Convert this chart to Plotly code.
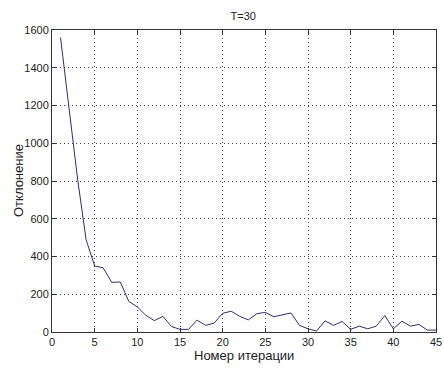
import plotly.graph_objects as go

iterations = list(range(1, 46))
deviation = [1560, 1190, 810, 488, 350, 340, 263, 265, 162, 133, 88, 60, 83, 29, 14,
             14, 63, 35, 47, 99, 110, 83, 64, 97, 104, 81, 92, 101, 35, 17,
             5, 59, 35, 56, 14, 31, 17, 31, 87, 17, 57, 31, 40, 10, 10]

x_ticks = list(range(0, 46, 5))
y_ticks = list(range(0, 1601, 200))

FONT = "Liberation Sans, Arial"

fig = go.Figure()
fig.add_trace(go.Scatter(x=iterations, y=deviation, mode="lines",
                         line=dict(color="#2e2e7a", width=1), showlegend=False))

axis_common = dict(
    showline=True, linecolor="#333333", linewidth=1, mirror="ticks",
    ticks="inside", ticklen=4, tickcolor="#333333",
    showgrid=True, gridcolor="#444444", griddash="1px,3px", gridwidth=1,
    zeroline=False, automargin=False, ticklabeloverflow="allow",
    tickfont=dict(family=FONT, size=11, color="#222222"),
)

fig.update_layout(
    width=444, height=368,
    margin=dict(l=52, r=8, t=30, b=36),
    paper_bgcolor="white", plot_bgcolor="white",
    title=dict(text="T=30", x=0.548, xanchor="center", y=0.955, yanchor="middle",
               font=dict(family=FONT, size=11, color="#222222")),
    xaxis=dict(range=[0, 45], tickvals=x_ticks, **axis_common),
    yaxis=dict(range=[0, 1600], tickvals=y_ticks, **axis_common),
    annotations=[
        dict(text="Номер итерации", xref="paper", yref="paper", x=0.5, y=0,
             xanchor="center", yanchor="middle", yshift=-23, showarrow=False,
             font=dict(family=FONT, size=13, color="#222222")),
        dict(text="Отклонение", xref="paper", yref="paper", x=0, y=0.5,
             xanchor="center", yanchor="middle", xshift=-34, textangle=-90,
             showarrow=False, font=dict(family=FONT, size=13, color="#222222")),
    ],
)

fig.write_html("out.html", config={"displayModeBar": False},
               post_script="document.body.style.margin='0';document.body.style.overflow='hidden';")
